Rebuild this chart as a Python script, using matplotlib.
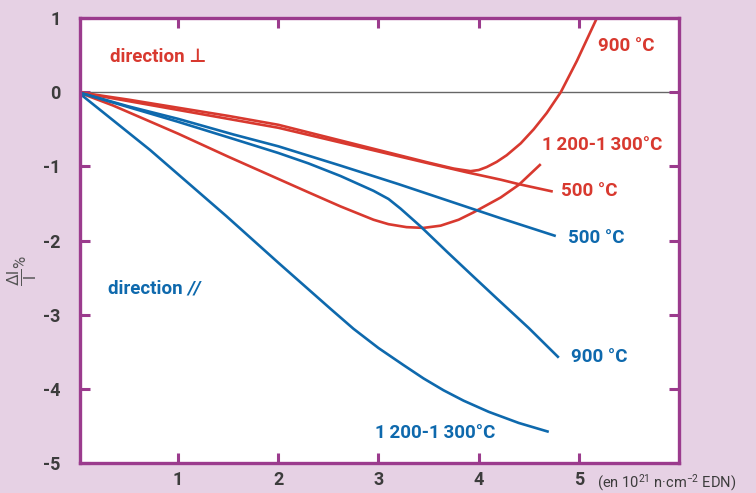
import matplotlib
matplotlib.use("Agg")
import matplotlib.pyplot as plt

plt.rcParams['font.family'] = ['Roboto', 'DejaVu Sans']
plt.rcParams['mathtext.default'] = 'regular'

# ---- data ----
x_red_900 = [0, 0.5, 1.0, 1.5, 2.0, 2.5, 3.0, 3.5, 3.75, 3.92, 4.0, 4.08, 4.18, 4.28, 4.42, 4.55, 4.68, 4.82, 4.98, 5.17, 5.24]
y_red_900 = [0, -0.10, -0.21, -0.32, -0.44, -0.61, -0.78, -0.95, -1.03, -1.065, -1.05, -1.01, -0.94, -0.85, -0.69, -0.50, -0.28, 0.0, 0.42, 0.97, 1.2]

x_red_500 = [0, 0.5, 1.0, 1.5, 2.0, 2.5, 3.0, 3.5, 3.88, 4.22, 4.4, 4.74]
y_red_500 = [0, -0.12, -0.24, -0.36, -0.48, -0.64, -0.80, -0.96, -1.08, -1.18, -1.24, -1.34]

x_red_1200 = [0, 0.35, 1.0, 1.5, 2.0, 2.3, 2.62, 2.95, 3.1, 3.28, 3.45, 3.62, 3.8, 3.95, 4.22, 4.4, 4.62]
y_red_1200 = [0, -0.18, -0.56, -0.87, -1.17, -1.35, -1.54, -1.72, -1.78, -1.82, -1.83, -1.80, -1.72, -1.62, -1.42, -1.25, -0.97]

x_blue_500 = [0, 0.5, 1.0, 1.55, 2.0, 2.62, 3.2, 4.22, 4.77]
y_blue_500 = [0, -0.19, -0.36, -0.57, -0.73, -0.99, -1.24, -1.70, -1.94]

x_blue_900 = [0, 0.5, 1.0, 1.55, 2.0, 2.3, 2.62, 2.95, 3.1, 3.22, 3.42, 3.69, 3.95, 4.18, 4.5, 4.8]
y_blue_900 = [0, -0.20, -0.40, -0.63, -0.82, -0.96, -1.13, -1.33, -1.44, -1.57, -1.81, -2.16, -2.49, -2.78, -3.18, -3.58]

x_blue_1200 = [0, 0.72, 1.48, 2.0, 2.52, 2.75, 3.0, 3.25, 3.45, 3.65, 3.85, 4.1, 4.4, 4.7]
y_blue_1200 = [0, -0.78, -1.67, -2.30, -2.92, -3.19, -3.45, -3.68, -3.86, -4.02, -4.16, -4.31, -4.46, -4.58]

x_ticks = [1, 2, 3, 4, 5]
y_ticks = [1, 0, -1, -2, -3, -4, -5]
y_tick_labels = ['1', '0', '-1', '-2', '-3', '-4', '-5']

RED = '#D8392F'
BLUE = '#0E69AD'
PURPLE = '#9B3B8D'
BG = '#E6D1E4'
DARK = '#3C3C3C'

fig = plt.figure(figsize=(7.56, 4.93), dpi=100, facecolor=BG)
ax = fig.add_axes([80/756, 1-463/493, (679-80)/756, (463-18)/493])
ax.set_facecolor('white')

ax.axhline(0, color='#666666', lw=1.0, zorder=1)

lw = 1.9
kw = dict(lw=lw, solid_capstyle='butt', solid_joinstyle='round')
ax.plot(x_red_900, y_red_900, color=RED, **kw)
ax.plot(x_red_500, y_red_500, color=RED, **kw)
ax.plot(x_red_1200, y_red_1200, color=RED, **kw)
ax.plot(x_blue_500, y_blue_500, color=BLUE, **kw)
ax.plot(x_blue_900, y_blue_900, color=BLUE, **kw)
ax.plot(x_blue_1200, y_blue_1200, color=BLUE, **kw)

ax.set_xlim(0.02, 6.0)
ax.set_ylim(-5, 1)

for s in ax.spines.values():
    s.set_color(PURPLE)
    s.set_linewidth(2.4)

ax.set_xticks(x_ticks)
ax.set_xticklabels([str(v) for v in x_ticks])
ax.set_yticks(y_ticks)
ax.set_yticklabels(y_tick_labels)
ax.tick_params(direction='in', length=7, width=2.2, color=PURPLE,
               top=True, right=True, labelsize=13, labelcolor=DARK)
ax.tick_params(axis='y', pad=14)
ax.tick_params(axis='x', pad=6)
for lab in ax.get_xticklabels() + ax.get_yticklabels():
    lab.set_fontweight('bold')

fs = 13.5
ts = '\u2009'
ax.text(5.19, 0.62, '900 °C', color=RED, fontsize=fs, fontweight='bold', va='center', ha='left')
ax.text(4.63, -0.71, f'1{ts}200-1{ts}300°C', color=RED, fontsize=fs, fontweight='bold', va='center', ha='left')
ax.text(4.82, -1.33, '500 °C', color=RED, fontsize=fs, fontweight='bold', va='center', ha='left')
ax.text(4.89, -1.96, '500 °C', color=BLUE, fontsize=fs, fontweight='bold', va='center', ha='left')
ax.text(4.92, -3.57, '900 °C', color=BLUE, fontsize=fs, fontweight='bold', va='center', ha='left')
ax.text(2.97, -4.60, f'1{ts}200-1{ts}300°C', color=BLUE, fontsize=fs, fontweight='bold', va='center', ha='left')

ax.text(0.32, 0.47, 'direction ⊥', color=RED, fontsize=fs, fontweight='bold', va='center', ha='left')
t1 = ax.text(0.30, -2.65, 'direction ', color=BLUE, fontsize=fs, fontweight='bold', va='center', ha='left')
ax.annotate('//', xy=(1, 0.5), xycoords=t1, color=BLUE, fontsize=fs, fontweight='bold',
            fontstyle='italic', va='center', ha='left')

fig.text(22/756, 1-270/493, r'$\dfrac{\Delta l}{l}$%', rotation=90, color='#555555',
         fontsize=12, ha='center', va='center')
fig.text(597/756, 1-483/493, r'(en 10$^{21}$ n·cm$^{-2}$ EDN)', color=DARK,
         fontsize=10.5, ha='left', va='center')

fig.savefig('out.png', dpi=100, facecolor=BG)
